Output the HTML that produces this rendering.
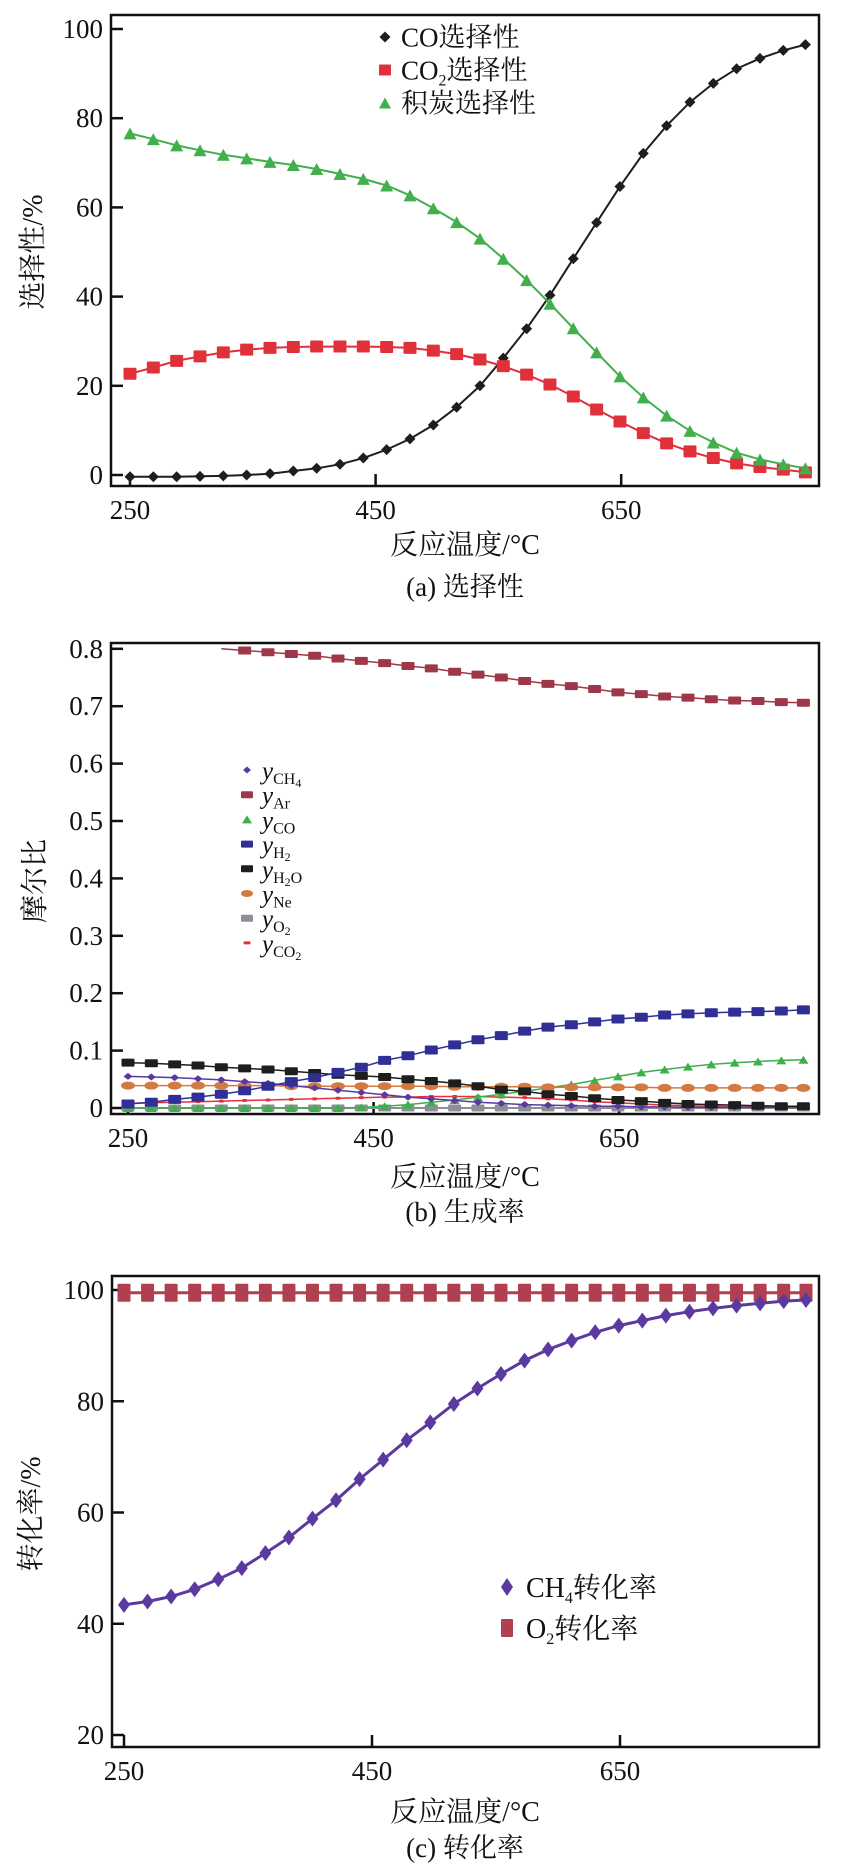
<!DOCTYPE html>
<html><head><meta charset="utf-8">
<style>
html,body{margin:0;padding:0;background:#fff;}
svg{display:block;}
text{font-family:"Liberation Serif","Noto Serif CJK SC","Noto Sans CJK SC",serif;fill:#111;}
</style></head>
<body>
<svg id="fig" width="846" height="1871" viewBox="0 0 846 1871" xmlns="http://www.w3.org/2000/svg"></svg>
<script>
// ---------- shared categories ----------
const temps = [250,269,288,307,326,345,364,383,402,421,440,459,478,497,516,535,554,573,592,611,630,649,668,687,706,725,744,763,782,800];
const xTicks = [250,450,650];
// ---------- panel (a) selectivity ----------
const aYTicks = [0,20,40,60,80,100];
const selCO  = [-0.4,-0.4,-0.4,-0.3,-0.2,0,0.3,0.9,1.5,2.4,3.8,5.7,8.1,11.2,15.2,20.0,26.2,32.8,40.3,48.5,56.6,64.7,72.1,78.3,83.6,87.8,91.1,93.4,95.2,96.5];
const selCO2 = [22.7,24.1,25.6,26.6,27.5,28.1,28.5,28.7,28.8,28.8,28.8,28.7,28.5,27.9,27.1,25.9,24.4,22.5,20.3,17.6,14.7,12.0,9.4,7.1,5.3,3.8,2.6,1.8,1.2,0.6];
const selC   = [76.6,75.3,73.9,72.8,71.8,71.0,70.2,69.5,68.6,67.5,66.4,64.9,62.7,59.8,56.7,53.0,48.5,43.7,38.4,32.9,27.5,22.1,17.4,13.3,9.9,7.3,5.0,3.5,2.4,1.5];
// ---------- panel (b) mole fraction ----------
const bYTicks = [0,0.1,0.2,0.3,0.4,0.5,0.6,0.7,0.8];
const yCH4 = [.055,.054,.053,.051,.049,.046,.043,.039,.035,.031,.027,.023,.019,.016,.013,.010,.008,.006,.005,.004,.003,.003,.002,.002,.001,.001,.001,.001,.001,.001];
const yAr  = [null,null,null,null,.800,.797,.794,.791,.788,.783,.779,.775,.770,.766,.760,.755,.750,.744,.739,.735,.730,.724,.721,.717,.715,.712,.710,.709,.707,.706];
const yCOb = [0,0,0,0,0,0,0,0,0,0,.001,.003,.006,.010,.014,.019,.024,.029,.035,.041,.048,.055,.062,.067,.072,.076,.079,.081,.083,.084];
const yH2  = [.007,.010,.015,.019,.024,.030,.038,.046,.053,.062,.071,.083,.091,.101,.110,.119,.126,.134,.141,.145,.150,.155,.158,.162,.164,.166,.167,.168,.169,.171];
const yH2O = [.079,.078,.076,.074,.071,.069,.067,.064,.061,.058,.056,.054,.050,.047,.043,.038,.032,.029,.024,.021,.017,.014,.012,.009,.007,.006,.005,.004,.003,.003];
const yNe  = [.039,.039,.039,.039,.039,.039,.039,.038,.038,.038,.038,.038,.038,.038,.037,.037,.037,.037,.036,.036,.036,.036,.036,.035,.035,.035,.035,.035,.035,.035];
const yO2  = [0,0,0,0,0,0,0,0,0,0,0,0,0,0,0,0,0,0,0,0,0,0,0,0,0,0,0,0,0,0];
const yCO2b= [.008,.009,.010,.011,.012,.013,.014,.015,.016,.017,.018,.019,.019,.020,.020,.020,.019,.018,.016,.014,.011,.009,.007,.005,.004,.003,.002,.002,.001,.001];
// ---------- panel (c) conversion ----------
const cYTicks = [20,40,60,80,100];
const convCH4 = [43.4,44.0,44.9,46.2,48.0,50.0,52.7,55.5,58.9,62.2,66.0,69.5,73.0,76.2,79.5,82.3,84.9,87.3,89.3,90.9,92.4,93.6,94.5,95.4,96.1,96.7,97.2,97.6,98.0,98.2];
const convO2  = [99.5,99.5,99.5,99.5,99.5,99.5,99.5,99.5,99.5,99.5,99.5,99.5,99.5,99.5,99.5,99.5,99.5,99.5,99.5,99.5,99.5,99.5,99.5,99.5,99.5,99.5,99.5,99.5,99.5,99.5];

const NS="http://www.w3.org/2000/svg";
const svg=document.getElementById('fig');
function mk(tag,attrs,parent){const e=document.createElementNS(NS,tag);for(const k in attrs)e.setAttribute(k,attrs[k]);(parent||svg).appendChild(e);return e;}

function marker(g,shape,cx,cy,color,w,h){
  let e;
  if(shape==='diamond'){e=mk('polygon',{points:`${cx},${cy-h/2} ${cx+w/2},${cy} ${cx},${cy+h/2} ${cx-w/2},${cy}`,fill:color},g);}
  else if(shape==='square'){e=mk('rect',{x:cx-w/2,y:cy-h/2,width:w,height:h,fill:color,rx:1},g);}
  else if(shape==='tri'){e=mk('polygon',{points:`${cx},${cy-h/2} ${cx+w/2},${cy+h/2} ${cx-w/2},${cy+h/2}`,fill:color},g);}
  else if(shape==='ellipse'){e=mk('ellipse',{cx:cx,cy:cy,rx:w/2,ry:h/2,fill:color},g);}
  return e;
}

function panel(cfg){
  const X=t=>cfg.x0+(t-250)*cfg.kx;
  const Y=v=>cfg.y0-(v-cfg.v0)*cfg.ky;
  const g=mk('g',{});
  
  
  const fr=mk('rect',{x:cfg.L,y:cfg.T,width:cfg.R-cfg.L,height:cfg.B-cfg.T,fill:'none',stroke:'#111','stroke-width':2.5},g);
  
  
  cfg.yTicks.forEach(v=>{
    const y=Y(v);
    const tk=mk('line',{x1:cfg.L,x2:cfg.L+12,y1:y,y2:y,stroke:'#111','stroke-width':2.5},g);
    
    
    const t=mk('text',{x:cfg.L-8,y:y+9,'text-anchor':'end','font-size':27},g);
    t.textContent=cfg.yFmt(v);
    
    
  });
  xTicks.forEach(v=>{
    const x=X(v);
    const tk=mk('line',{x1:x,x2:x,y1:cfg.B,y2:cfg.B-12,stroke:'#111','stroke-width':2.5},g);
    
    
    const t=mk('text',{x:x,y:cfg.B+33,'text-anchor':'middle','font-size':27},g);
    t.textContent=v;
    
    
  });
  cfg.series.forEach(s=>{
    const sg=mk('g',{},g);
    
    
    let d='';
    s.data.forEach((v,i)=>{ if(v===null) return; d+=(d?'L':'M')+X(temps[i]).toFixed(1)+','+Y(v).toFixed(1); });
    if(s.lead){ d='M'+X(s.lead[0]).toFixed(1)+','+Y(s.lead[1]).toFixed(1)+'L'+d.slice(1); }
    const p=mk('path',{d:d,fill:'none',stroke:s.line||s.color,'stroke-width':s.lw||2},sg);
    
    
    s.data.forEach((v,i)=>{
      if(v===null || (s.skip&&s.skip.includes(i))) return;
      const m=marker(sg,s.shape,X(temps[i]),Y(v),s.color,s.w,s.h);
      
      
    });
  });
  const xl=mk('text',{x:cfg.xlX,y:cfg.xlY,'text-anchor':'middle','font-size':28},g);
  xl.textContent='反应温度/°C';
  
  
  const cap=mk('text',{x:cfg.xlX,y:cfg.capY,'text-anchor':'middle','font-size':27},g);
  cap.textContent=cfg.caption;
  
  
  const yl=mk('text',{x:0,y:0,'text-anchor':'middle','font-size':28,transform:`translate(${cfg.ylX},${cfg.ylY}) rotate(-90)`},g);
  yl.textContent=cfg.ytitle;
  
  
  cfg.legend.forEach((it,i)=>{
    const lg=mk('g',{},g);
    
    
    const y=cfg.legY+i*cfg.legDy;
    marker(lg,it.shape,cfg.legMX,y,it.color,it.w,it.h);
    const t=mk('text',{x:cfg.legTX,y:y+cfg.legFS*0.36,'font-size':cfg.legFS},lg);
    t.innerHTML=it.html;
  });
}

panel({name:'panel-a-selectivity',L:111,R:819,T:15,B:486,x0:130,kx:1.228,y0:475,v0:0,ky:4.46,
  yTicks:aYTicks,yFmt:v=>String(v),
  series:[
    {name:'co-selectivity',data:selCO,color:'#1e1e1e',shape:'diamond',w:11,h:11},
    {name:'co2-selectivity',data:selCO2,color:'#e0303a',shape:'square',w:13,h:12},
    {name:'carbon-selectivity',data:selC,color:'#41b04c',shape:'tri',w:13,h:12}
  ],
  xlX:465,xlY:554,capY:596,caption:'(a) 选择性',ytitle:'选择性/%',ylX:42,ylY:252,
  legend:[
    {shape:'diamond',color:'#1e1e1e',w:11,h:11,html:'CO选择性'},
    {shape:'square',color:'#e0303a',w:12,h:11,html:'CO<tspan font-size="16" dy="6">2</tspan><tspan dy="-6">选择性</tspan>'},
    {shape:'tri',color:'#41b04c',w:12,h:11,html:'积炭选择性'}
  ],legMX:385,legTX:401,legY:37,legDy:33,legFS:27
});

panel({name:'panel-b-mole-fraction',L:111,R:819,T:643,B:1114,x0:128,kx:1.228,y0:1108,v0:0,ky:574,
  yTicks:bYTicks,yFmt:v=>v===0?'0':v.toFixed(1),
  series:[
    {name:'y-o2',data:yO2,color:'#8c8f95',shape:'square',w:13,h:7},
    {name:'y-co2',data:yCO2b,color:'#e8303a',shape:'square',w:5,h:3,lw:1.5},
    {name:'y-co',data:yCOb,color:'#3cb04a',shape:'tri',w:10,h:8,lw:1.5},
    {name:'y-ne',data:yNe,color:'#d27a42',shape:'ellipse',w:14,h:8,lw:1.5},
    {name:'y-ch4',data:yCH4,color:'#5b3aa0',shape:'diamond',w:9,h:7,lw:1.5},
    {name:'y-h2o',data:yH2O,color:'#1e1e1e',shape:'square',w:13,h:8,lw:1.5},
    {name:'y-h2',data:yH2,color:'#2f2f96',shape:'square',w:13,h:9,lw:1.5},
    {name:'y-ar',data:yAr,color:'#9e3848',shape:'square',w:13,h:8,lw:1.5,skip:[4],lead:[326,0.80]}
  ],
  xlX:465,xlY:1186,capY:1221,caption:'(b) 生成率',ytitle:'摩尔比',ylX:44,ylY:881,
  legend:[
    {shape:'diamond',color:'#5b3aa0',w:8,h:7,html:'<tspan font-style="italic">y</tspan><tspan font-size="16" dy="5">CH</tspan><tspan font-size="12" dy="3">4</tspan>'},
    {shape:'square',color:'#9e3848',w:12,h:7,html:'<tspan font-style="italic">y</tspan><tspan font-size="16" dy="5">Ar</tspan>'},
    {shape:'tri',color:'#3cb04a',w:10,h:8,html:'<tspan font-style="italic">y</tspan><tspan font-size="16" dy="5">CO</tspan>'},
    {shape:'square',color:'#2f2f96',w:12,h:7,html:'<tspan font-style="italic">y</tspan><tspan font-size="16" dy="5">H</tspan><tspan font-size="12" dy="3">2</tspan>'},
    {shape:'square',color:'#1e1e1e',w:12,h:7,html:'<tspan font-style="italic">y</tspan><tspan font-size="16" dy="5">H</tspan><tspan font-size="12" dy="3">2</tspan><tspan font-size="16" dy="-3">O</tspan>'},
    {shape:'ellipse',color:'#d27a42',w:12,h:7,html:'<tspan font-style="italic">y</tspan><tspan font-size="16" dy="5">Ne</tspan>'},
    {shape:'square',color:'#8c8f95',w:12,h:7,html:'<tspan font-style="italic">y</tspan><tspan font-size="16" dy="5">O</tspan><tspan font-size="12" dy="3">2</tspan>'},
    {shape:'square',color:'#e8303a',w:7,h:3,html:'<tspan font-style="italic">y</tspan><tspan font-size="16" dy="5">CO</tspan><tspan font-size="12" dy="3">2</tspan>'}
  ],legMX:247,legTX:262,legY:770,legDy:24.7,legFS:25
});

panel({name:'panel-c-conversion',L:112,R:819,T:1276,B:1747,x0:124,kx:1.24,y0:1735,v0:20,ky:5.5625,
  yTicks:cYTicks,yFmt:v=>String(v),
  series:[
    {name:'o2-conversion',data:convO2,color:'#b0404f',shape:'square',w:13,h:18,lw:3},
    {name:'ch4-conversion',data:convCH4,color:'#5b3aa0',shape:'diamond',w:12,h:16,lw:3}
  ],
  xlX:465,xlY:1821,capY:1857,caption:'(c) 转化率',ytitle:'转化率/%',ylX:40,ylY:1514,
  legend:[
    {shape:'diamond',color:'#5b3aa0',w:12,h:18,html:'CH<tspan font-size="16" dy="6">4</tspan><tspan dy="-6">转化率</tspan>'},
    {shape:'square',color:'#b0404f',w:12,h:18,html:'O<tspan font-size="16" dy="6">2</tspan><tspan dy="-6">转化率</tspan>'}
  ],legMX:507,legTX:526,legY:1587,legDy:41,legFS:28
});
</script>
</body></html>
